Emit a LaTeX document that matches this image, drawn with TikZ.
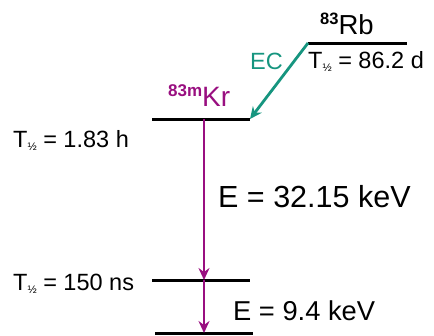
\documentclass[tikz,border=0pt]{standalone}
\usepackage{fontspec}
\setmainfont{Liberation Sans}
\usetikzlibrary{arrows.meta}
\definecolor{ecgreen}{HTML}{16957F}
\definecolor{krpurple}{HTML}{990F80}
\newcommand{\half}{\raisebox{-3pt}{\fontsize{11}{11}\selectfont ½}}
\tikzset{
  lbl/.style={inner sep=0pt, anchor=base west},
  level/.style={line width=3pt, black},
  decay/.style={line width=2.4pt, -{Stealth[length=12pt,width=11pt,inset=4pt]}},
}
\begin{document}
\begin{tikzpicture}[x=1pt,y=-1pt]
\useasboundingbox (0,0) rectangle (434,335);
% level coordinates
\coordinate (rbL) at (308,43);
\coordinate (rbR) at (407,43);
\coordinate (krL) at (152,119);
\coordinate (krR) at (250,119);
\coordinate (kr) at (204,119);
\coordinate (midL) at (152,280);
\coordinate (midR) at (250,280);
\coordinate (mid) at (204,280);
\coordinate (gL) at (155,333);
\coordinate (gR) at (253,333);
\coordinate (g) at (204,333);
% levels
\draw[level] (rbL) -- (rbR);
\draw[level] (krL) -- (krR);
\draw[level] (midL) -- (midR);
\draw[level] (gL) -- (gR);
% decays
\draw[decay, ecgreen, line width=2.8pt] (rbL) -- (krR);
\draw[decay, krpurple] (kr) -- (mid);
\draw[decay, krpurple] (mid) -- (g);
% labels
\node[lbl] (rb) at (320,34) {\raisebox{10pt}{\fontsize{16.5}{16.5}\selectfont\bfseries 83}\fontsize{27.5}{27.5}\selectfont Rb};
\node[lbl] (t1) at (308,68) {\fontsize{23.5}{23.5}\selectfont T\half\ = 86.2 d};
\node[lbl, text=ecgreen] (ec) at (250,69) {\fontsize{23.5}{23.5}\selectfont EC};
\node[lbl, text=krpurple] (krl) at (168,106) {\raisebox{10pt}{\fontsize{17}{17}\selectfont\bfseries 83m}\fontsize{28}{28}\selectfont Kr};
\node[lbl] (t2) at (13,147) {\fontsize{23.5}{23.5}\selectfont T\half\ = 1.83 h};
\node[lbl] (e1) at (218,207) {\fontsize{30.5}{30.5}\selectfont E = 32.15 keV};
\node[lbl] (t3) at (13,290) {\fontsize{23.5}{23.5}\selectfont T\half\ = 150 ns};
\node[lbl] (e2) at (233,320) {\fontsize{27.3}{27.3}\selectfont E = 9.4 keV};
\end{tikzpicture}
\end{document}
